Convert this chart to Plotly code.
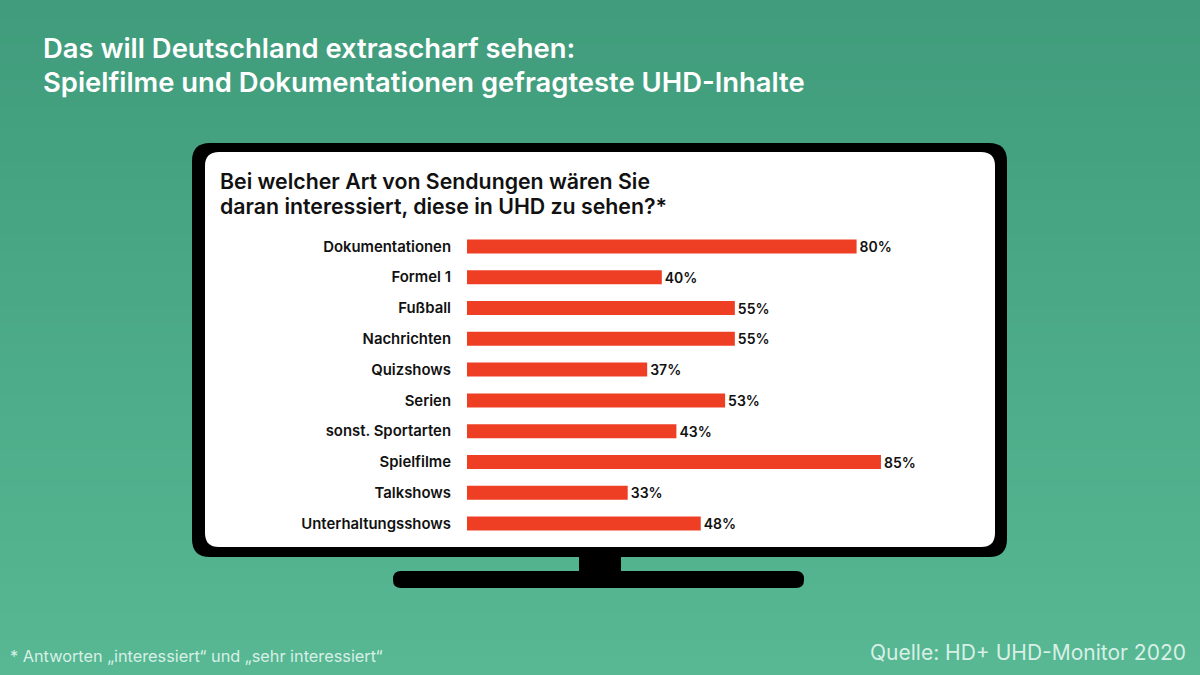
import plotly.graph_objects as go

W, H = 1200, 675

kategorien = ["Dokumentationen", "Formel 1", "Fußball", "Nachrichten", "Quizshows",
              "Serien", "sonst. Sportarten", "Spielfilme", "Talkshows", "Unterhaltungsshows"]
werte = [80, 40, 55, 55, 37, 53, 43, 85, 33, 48]
titel = ["Das will Deutschland extrascharf sehen:",
         "Spielfilme und Dokumentationen gefragteste UHD-Inhalte"]
frage = ["Bei welcher Art von Sendungen wären Sie",
         "daran interessiert, diese in UHD zu sehen?*"]
fussnote = "* Antworten „interessiert“ und „sehr interessiert“"
quelle = "Quelle: HD+ UHD-Monitor 2020"

FONT = "Inter"


def px(x):
    return x / W


def py(y):
    return 1 - y / H


def rund(x0, y0, x1, y1, r):
    # abgerundetes Rechteck in Pixeln, umgerechnet auf paper-Koordinaten
    p = lambda x, y: f"{px(x)},{py(y)}"
    return (f"M{p(x0 + r, y0)} L{p(x1 - r, y0)} Q{p(x1, y0)} {p(x1, y0 + r)} "
            f"L{p(x1, y1 - r)} Q{p(x1, y1)} {p(x1 - r, y1)} "
            f"L{p(x0 + r, y1)} Q{p(x0, y1)} {p(x0, y1 - r)} "
            f"L{p(x0, y0 + r)} Q{p(x0, y0)} {p(x0 + r, y0)} Z")


def flaeche(pfad, farbe):
    return dict(type="path", path=pfad, xref="paper", yref="paper",
                fillcolor=farbe, line=dict(width=0), layer="below")


def text(s, x, y, size, farbe, anchor="left", weight=400):
    return dict(text=s, x=px(x), y=py(y), xref="paper", yref="paper", showarrow=False,
                xanchor=anchor, yanchor="middle", borderpad=0,
                font=dict(family=FONT, size=size, color=farbe, weight=weight))


# Hintergrund: Verlauf von oben nach unten in schmalen Streifen
shapes = []
streifen = 75
oben, unten = (64, 156, 124), (87, 184, 147)
for i in range(streifen):
    t = i / (streifen - 1)
    c = [round(a + (b - a) * t) for a, b in zip(oben, unten)]
    shapes.append(dict(type="rect", xref="paper", yref="paper", x0=0, x1=1,
                       y0=1 - (i + 1) / streifen, y1=1 - i / streifen,
                       fillcolor=f"rgb({c[0]},{c[1]},{c[2]})", line=dict(width=0), layer="below"))

# Fernseher
shapes.append(flaeche(rund(579, 550, 621, 580, 0), "#000000"))
shapes.append(flaeche(rund(393, 571, 804, 588, 8), "#000000"))
shapes.append(flaeche(rund(192, 143, 1007, 557, 18), "#000000"))
shapes.append(flaeche(rund(205, 152, 995, 547, 14), "#ffffff"))

fig = go.Figure()

fig.add_trace(go.Bar(
    x=werte,
    y=kategorien,
    orientation="h",
    marker=dict(color="#EE3F25", line=dict(width=0)),
    text=[f"{w}%" for w in werte],
    textposition="outside",
    constraintext="none",
    textfont=dict(family=FONT, size=14, color="#111111", weight=600),
    cliponaxis=False,
    hoverinfo="skip"
))

annotations = [
    text(titel[0], 42, 48, 27.4, "#ffffff", weight=600),
    text(titel[1], 42, 82, 27.4, "#ffffff", weight=600),
    text(frage[0], 219, 181, 21.3, "#111111", weight=600),
    text(frage[1], 219, 206, 21.3, "#111111", weight=600),
    text(fussnote, 9, 656, 16.3, "#d8f0e6"),
    text(quelle, 1187, 652, 21, "#d8f0e6", anchor="right"),
]

fig.update_layout(
    width=W,
    height=H,
    margin=dict(l=0, r=0, t=0, b=0),
    paper_bgcolor="#57B893",
    plot_bgcolor="rgba(0,0,0,0)",
    showlegend=False,
    bargap=0.545,
    shapes=shapes,
    annotations=annotations,
    xaxis=dict(domain=[px(467), px(967)], range=[0, 500 / 4.87], visible=False, fixedrange=True),
    yaxis=dict(domain=[py(539), py(231)], autorange="reversed", showgrid=False, showline=False,
               zeroline=False, ticks="", ticklabelstandoff=15, fixedrange=True,
               tickfont=dict(family=FONT, size=14.9, color="#111111", weight=600)),
)

fig.write_html("out.html", config={"displayModeBar": False},
               post_script="document.body.style.margin='0';document.body.style.overflow='hidden';")
